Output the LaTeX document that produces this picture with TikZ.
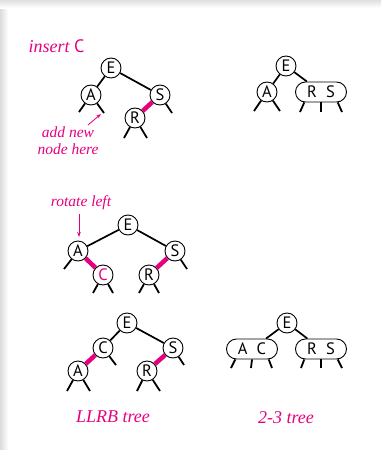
\documentclass[tikz,border=0pt]{standalone}
\usepackage{fontspec}
\usetikzlibrary{arrows.meta}
\setmainfont{Liberation Serif}
\newfontfamily\nodefont{PT Sans}
\definecolor{llred}{RGB}{230,0,126}
\begin{document}
\begin{tikzpicture}[x=1pt,y=-1pt,
  bst/.style={circle, draw, line width=0.9pt, fill=white, minimum size=20pt, inner sep=0pt, font=\nodefont\fontsize{16.5}{16.5}\selectfont},
  ttn/.style={rectangle, rounded corners=10pt, draw, line width=0.9pt, fill=white, minimum width=51pt, minimum height=20pt, inner sep=0pt, font=\nodefont\fontsize{16.5}{16.5}\selectfont},
  blk/.style={line width=1.7pt},
  redlink/.style={line width=4.5pt, draw=llred},
  stub/.style={line width=1.8pt},
  lbl/.style={text=llred, font=\itshape\fontsize{18}{18}\selectfont},
  note/.style={text=llred, align=center, font=\itshape\fontsize{15.5}{17}\selectfont},
  pointer/.style={draw=llred, line width=0.8pt, -{Stealth[length=5pt,width=3.5pt]}}
]
\useasboundingbox (0,0) rectangle (381,450);
\shade[left color=black!14, right color=white] (0,0) rectangle (8,450);
\shade[top color=black!12, bottom color=white] (0,0) rectangle (381,8);

% ---------- top left: insert C ----------
\node[lbl, anchor=base west] (ins) at (25,52) {insert {\nodefont\upshape C}};
\node[bst] (e1) at (111,68) {E};
\node[bst] (a1) at (91,95) {A};
\node[bst] (s1) at (160,95) {S};
\node[bst] (r1) at (135,118) {R};
\draw[blk] (e1) -- (a1);
\draw[blk] (e1) -- (s1);
\draw[redlink] (s1) -- (r1);
\coordinate (a1l) at (79,112); \coordinate (a1r) at (104,113);
\coordinate (s1r) at (172,113);
\coordinate (r1l) at (124,138); \coordinate (r1r) at (147,138);
\draw[stub] (a1) -- (a1l); \draw[stub] (a1) -- (a1r);
\draw[stub] (s1) -- (s1r);
\draw[stub] (r1) -- (r1l); \draw[stub] (r1) -- (r1r);
\node[note] (add) at (68,141) {add new\\node here};
\coordinate (addtail) at (88,125); \coordinate (addtip) at (101,114);
\draw[pointer] (addtail) -- (addtip);

% ---------- top right: 2-3 ----------
\node[bst] (e2) at (286,66) {E};
\node[bst] (a2) at (267,92) {A};
\node[ttn] (rs2) at (321,92) {R\hspace{9pt}S};
\draw[blk] (e2) -- (a2);
\draw[blk] (e2) -- (rs2);
\coordinate (a2l) at (254,111); \coordinate (a2r) at (280,111);
\draw[stub] (a2) -- (a2l); \draw[stub] (a2) -- (a2r);
\coordinate (rs2l) at (300,112); \coordinate (rs2m) at (321,112); \coordinate (rs2r) at (342,112);
\draw[stub] (rs2.-148) -- (rs2l);
\draw[stub] (rs2.south) -- (rs2m);
\draw[stub] (rs2.-32) -- (rs2r);

% ---------- middle: rotate left ----------
\node[note] (rot) at (81,203) {rotate left};
\node[bst] (e3) at (128,225) {E};
\node[bst] (a3) at (78,251) {A};
\node[bst] (s3) at (175,251) {S};
\node[bst, text=llred] (c3) at (103,275) {C};
\node[bst] (r3) at (149,275) {R};
\draw[blk] (e3) -- (a3);
\draw[blk] (e3) -- (s3);
\draw[redlink] (a3) -- (c3);
\draw[redlink] (s3) -- (r3);
\coordinate (a3l) at (64,269); \coordinate (s3r) at (187,269);
\coordinate (c3l) at (93,293); \coordinate (c3r) at (113,293);
\coordinate (r3l) at (139,293); \coordinate (r3r) at (159,293);
\draw[stub] (a3) -- (a3l); \draw[stub] (s3) -- (s3r);
\draw[stub] (c3) -- (c3l); \draw[stub] (c3) -- (c3r);
\draw[stub] (r3) -- (r3l); \draw[stub] (r3) -- (r3r);
\coordinate (rottail) at (79,214); \coordinate (rottip) at (79,237);
\draw[pointer] (rottail) -- (rottip);

% ---------- bottom left: LLRB ----------
\node[bst] (e4) at (127,323) {E};
\node[bst] (c4) at (103,348) {C};
\node[bst] (s4) at (173,348) {S};
\node[bst] (a4) at (78,371) {A};
\node[bst] (r4) at (147,371) {R};
\draw[blk] (e4) -- (c4);
\draw[blk] (e4) -- (s4);
\draw[redlink] (c4) -- (a4);
\draw[redlink] (s4) -- (r4);
\coordinate (c4r) at (116,365); \coordinate (s4r) at (184,365);
\coordinate (a4l) at (67,391); \coordinate (a4r) at (90,391);
\coordinate (r4l) at (137,391); \coordinate (r4r) at (160,391);
\draw[stub] (c4) -- (c4r); \draw[stub] (s4) -- (s4r);
\draw[stub] (a4) -- (a4l); \draw[stub] (a4) -- (a4r);
\draw[stub] (r4) -- (r4l); \draw[stub] (r4) -- (r4r);
\node[lbl] (llrb) at (113,417) {LLRB tree};

% ---------- bottom right: 2-3 tree ----------
\node[bst] (e5) at (287,323) {E};
\node[ttn] (ac5) at (252,349) {A\hspace{9pt}C};
\node[ttn] (rs5) at (321,349) {R\hspace{9pt}S};
\draw[blk] (e5) -- (ac5);
\draw[blk] (e5) -- (rs5);
\coordinate (ac5l) at (231,368); \coordinate (ac5m) at (251,368); \coordinate (ac5r) at (272,368);
\coordinate (rs5l) at (301,368); \coordinate (rs5m) at (321,368); \coordinate (rs5r) at (342,368);
\draw[stub] (ac5.-148) -- (ac5l); \draw[stub] (ac5.south) -- (ac5m); \draw[stub] (ac5.-32) -- (ac5r);
\draw[stub] (rs5.-148) -- (rs5l); \draw[stub] (rs5.south) -- (rs5m); \draw[stub] (rs5.-32) -- (rs5r);
\node[lbl] (tt) at (286,418) {2-3 tree};
\end{tikzpicture}
\end{document}
